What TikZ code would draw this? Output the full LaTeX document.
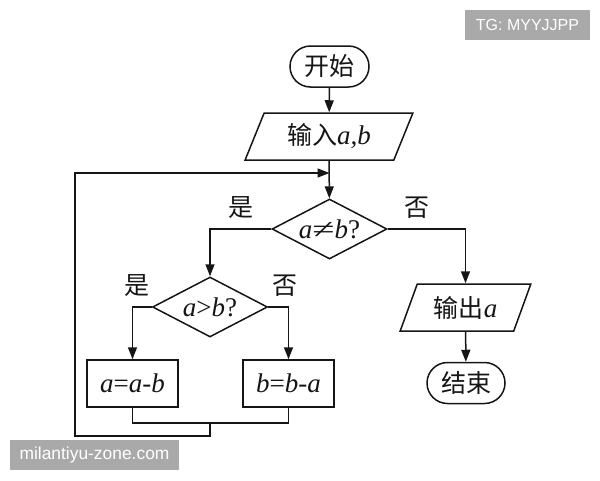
\documentclass[tikz,border=0pt]{standalone}
\usepackage{fontspec}
\usepackage{graphicx}
\setmainfont{Liberation Serif}
\setsansfont{Liberation Sans}
\newfontfamily\cjk{Noto Sans CJK SC}
\usetikzlibrary{shapes.geometric,shapes.misc,arrows.meta,calc}
\definecolor{wm}{HTML}{A9A9A9}
\definecolor{ink}{HTML}{151515}
\newcommand{\tf}{\fontsize{27}{30}\selectfont}
\newcommand{\zh}[1]{{\cjk\fontsize{25}{28}\selectfont #1}}
\newcommand{\ii}[1]{\textit{#1}}
\tikzset{
  base/.style={draw=ink,line width=1.5pt,inner sep=0pt,font=\tf,text=ink},
  term/.style={base,rounded rectangle,minimum height=41pt},
  io/.style={base,trapezium,trapezium left angle=64,trapezium right angle=116,trapezium stretches=true,minimum height=47pt},
  dec/.style={base,diamond,aspect=1.93,minimum height=60pt,minimum width=115pt},
  proc/.style={base,rectangle,minimum width=91pt,minimum height=47pt},
  lab/.style={inner sep=0pt,text=ink},
  wmk/.style={fill=wm,text=white,inner sep=0pt},
  arr/.style={draw=ink,line width=1.5pt,-{Triangle[length=12pt,width=9pt]}},
  ln/.style={draw=ink,line width=1.5pt}
}
\begin{document}
\begin{tikzpicture}[x=1pt,y=-1pt]
\useasboundingbox (0,0) rectangle (600,480);
\node[term,minimum width=79pt] (start) at (329.5,66.5) {\zh{开始}};
\node[io,minimum width=168pt] (input) at (329,136.5) {\zh{输入}\ii{a,b}};
\node[dec] (d1) at (329.5,229) {\ii{a}\scalebox{1.5}[1]{≠}\ii{b}?};
\node[dec] (d2) at (210,307) {\ii{a}>\ii{b}?};
\node[proc] (p1) at (132.5,383.5) {\ii{a}=\ii{a}-\ii{b}};
\node[proc] (p2) at (288.5,383.5) {\ii{b}=\ii{b}-\ii{a}};
\node[io,minimum width=131pt] (output) at (465.5,307.5) {\zh{输出}\ii{a}};
\node[term,minimum width=78pt] (stop) at (466,383) {\zh{结束}};
\node[lab] (y1) at (241,208) {\zh{是}};
\node[lab] (n1) at (417,208) {\zh{否}};
\node[lab] (y2) at (137,286) {\zh{是}};
\node[lab] (n2) at (285,286) {\zh{否}};
\node[wmk,minimum width=125pt,minimum height=30pt,font=\sffamily\fontsize{16}{18}\selectfont] (w1) at (527.5,25) {TG: MYYJJPP};
\node[wmk,minimum width=169pt,minimum height=30pt,font=\sffamily\fontsize{17.4}{19}\selectfont] (w2) at (94.5,455) {milantiyu-zone.com};
\coordinate (j1) at (329.5,173);
\coordinate (j2) at (210,423);
\coordinate (l1) at (210,436);
\coordinate (l2) at (75,436);
\coordinate (l3) at (75,173);
\draw[arr] (start) -- (input);
\draw[arr] (input) -- (d1);
\draw[arr] (d1.west) -| (d2.north);
\draw[arr] (d1.east) -| (output.north);
\draw[arr] (output) -- (stop);
\draw[arr] (d2.west) -| (p1.north);
\draw[arr] (d2.east) -| (p2.north);
\draw[ln] (p1.south) |- (j2);
\draw[ln] (p2.south) |- (j2);
\draw[arr] (j2) -- (l1) -- (l2) -- (l3) -- (j1);
\end{tikzpicture}
\end{document}
